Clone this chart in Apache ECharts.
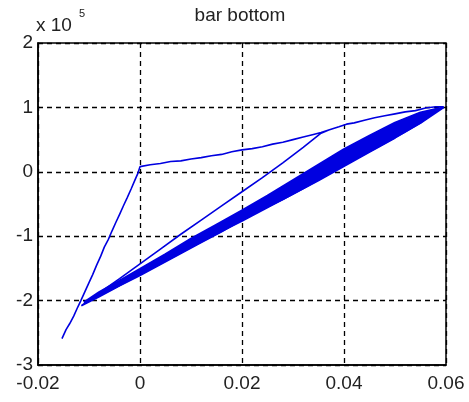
<!DOCTYPE html>
<html>
<head>
<meta charset="utf-8">
<script src="https://cdn.jsdelivr.net/npm/echarts@6/dist/echarts.min.js"></script>
<style>
html,body{margin:0;padding:0;background:#fff;}
#chart{width:469px;height:402px;}
</style>
</head>
<body>
<div id="chart"></div>
<script>
// Chart text
const titleText = 'bar bottom';
const yScaleBase = 'x 10';
const yScaleExp = '5';

// Axis ticks
const xTicks = [-0.02, 0, 0.02, 0.04, 0.06];
const yTicks = [-3, -2, -1, 0, 1, 2];

// Path pieces (x, y in units of 1e5)
const steepRise = [[-0.0153,-2.59],[-0.0145,-2.45],[-0.0138,-2.36],[-0.0130,-2.24],[-0.0122,-2.10],[-0.0116,-2.00],[-0.0108,-1.86],[-0.0100,-1.72],[-0.0093,-1.60],[-0.0085,-1.45],[-0.0077,-1.31],[-0.0070,-1.17],[-0.0062,-1.05],[-0.0055,-0.92],[-0.0047,-0.78],[-0.0040,-0.66],[-0.0032,-0.52],[-0.0025,-0.40],[-0.0017,-0.26],[-0.0010,-0.13],[-0.0004,-0.02],[0.0000,0.08]];
const upperBranch = [[0.002,0.11],[0.004,0.13],[0.006,0.16],[0.008,0.17],[0.010,0.20],[0.012,0.22],[0.014,0.25],[0.016,0.27],[0.018,0.31],[0.020,0.34],[0.022,0.36],[0.024,0.39],[0.026,0.43],[0.028,0.46],[0.030,0.50],[0.032,0.54],[0.034,0.58],[0.0355,0.61]];
const upperTail = [[0.037,0.65],[0.039,0.70],[0.0405,0.74],[0.042,0.76],[0.044,0.80],[0.046,0.84],[0.048,0.87],[0.050,0.90],[0.052,0.93],[0.054,0.95],[0.056,0.99],[0.058,1.01],[0.0595,1.01]];
const firstDescent = [[0.057,0.88],[0.055,0.76],[0.052,0.62],[0.050,0.53],[0.047,0.40],[0.044,0.27],[0.040,0.10],[0.036,-0.08],[0.032,-0.26],[0.028,-0.43],[0.024,-0.58],[0.020,-0.75],[0.016,-0.93],[0.012,-1.10],[0.008,-1.27],[0.004,-1.44],[0.000,-1.61],[-0.004,-1.77],[-0.008,-1.94],[-0.0115,-2.08]];
const middleRise = [[-0.008,-1.88],[-0.004,-1.66],[0.000,-1.43],[0.004,-1.20],[0.008,-0.97],[0.012,-0.75],[0.016,-0.53],[0.020,-0.31],[0.024,-0.09],[0.028,0.14],[0.032,0.38],[0.0355,0.60]];
const loop2Down = [[0.0595,1.0],[0.055,0.77],[0.050,0.55],[0.045,0.33],[0.040,0.11],[0.035,-0.11],[0.030,-0.33],[0.025,-0.54],[0.020,-0.75],[0.015,-0.95],[0.010,-1.16],[0.005,-1.37],[0.000,-1.58],[-0.004,-1.75],[-0.008,-1.91],[-0.0110,-2.03]];
const loop2Up = [[-0.008,-1.87],[-0.004,-1.69],[0.000,-1.51],[0.005,-1.28],[0.010,-1.04],[0.015,-0.82],[0.020,-0.60],[0.025,-0.37],[0.030,-0.13],[0.035,0.11],[0.040,0.35],[0.045,0.56],[0.050,0.76],[0.055,0.92],[0.0595,1.0]];
const loop3Down = [[0.055,0.80],[0.050,0.59],[0.045,0.38],[0.040,0.16],[0.035,-0.06],[0.030,-0.28],[0.025,-0.50],[0.020,-0.72],[0.015,-0.92],[0.010,-1.13],[0.005,-1.35],[0.000,-1.57],[-0.004,-1.74],[-0.007,-1.86]];
const loop3Up = [[-0.004,-1.71],[0.000,-1.53],[0.005,-1.30],[0.010,-1.06],[0.015,-0.84],[0.020,-0.63],[0.025,-0.40],[0.030,-0.17],[0.035,0.07],[0.040,0.31],[0.045,0.52],[0.050,0.73],[0.055,0.90],[0.0595,1.0]];
const loop4Down = [[0.055,0.79],[0.050,0.57],[0.045,0.35],[0.040,0.13],[0.035,-0.09],[0.030,-0.31],[0.025,-0.52],[0.020,-0.74],[0.015,-0.94],[0.010,-1.15],[0.005,-1.36],[0.000,-1.58],[-0.003,-1.71]];
const loop4Up = [[0.000,-1.54],[0.005,-1.32],[0.010,-1.09],[0.015,-0.87],[0.020,-0.66],[0.025,-0.43],[0.030,-0.20],[0.035,0.03],[0.040,0.27],[0.045,0.48],[0.050,0.69],[0.055,0.87],[0.0595,1.0]];
const loop5Down = [[0.055,0.82],[0.050,0.62],[0.045,0.41],[0.040,0.19],[0.035,-0.03],[0.030,-0.25],[0.025,-0.48],[0.020,-0.70],[0.015,-0.91],[0.010,-1.12],[0.005,-1.34],[0.001,-1.52]];
const loop5Up = [[0.005,-1.29],[0.010,-1.05],[0.015,-0.83],[0.020,-0.61],[0.025,-0.38],[0.030,-0.15],[0.035,0.09],[0.040,0.33],[0.045,0.54],[0.050,0.75],[0.055,0.92],[0.0595,1.0]];
const loop6Down = [[0.055,0.76],[0.050,0.53],[0.045,0.31],[0.040,0.09],[0.035,-0.13],[0.030,-0.34],[0.025,-0.55],[0.020,-0.76],[0.015,-0.96],[0.010,-1.17],[0.005,-1.38],[0.000,-1.59],[-0.005,-1.80],[-0.010,-2.00]];
const loop6Up = [[-0.006,-1.80],[-0.002,-1.64],[0.002,-1.46],[0.006,-1.28],[0.010,-1.10],[0.015,-0.89],[0.020,-0.68],[0.025,-0.46],[0.030,-0.23],[0.035,-0.01],[0.040,0.22],[0.045,0.44],[0.050,0.65],[0.055,0.84],[0.0595,1.0]];
const loop7Down = [[0.055,0.78],[0.050,0.56],[0.045,0.34],[0.040,0.12],[0.035,-0.10],[0.030,-0.32],[0.025,-0.53],[0.020,-0.74],[0.015,-0.95],[0.010,-1.16],[0.005,-1.37],[0.000,-1.59],[-0.004,-1.76],[-0.006,-1.83]];
const loop7Up = [[-0.004,-1.71],[0.000,-1.53],[0.005,-1.31],[0.010,-1.08],[0.015,-0.86],[0.020,-0.64],[0.025,-0.42],[0.030,-0.19],[0.035,0.04],[0.040,0.28],[0.045,0.49],[0.050,0.70],[0.055,0.88],[0.0595,1.0]];
const loop8Down = [[0.055,0.81],[0.050,0.61],[0.045,0.39],[0.040,0.18],[0.035,-0.05],[0.030,-0.27],[0.025,-0.49],[0.020,-0.71],[0.015,-0.91],[0.010,-1.13],[0.005,-1.35],[0.002,-1.48]];
const loop8Up = [[0.005,-1.29],[0.010,-1.05],[0.015,-0.83],[0.020,-0.62],[0.025,-0.39],[0.030,-0.15],[0.035,0.08],[0.040,0.32],[0.045,0.53],[0.050,0.74],[0.055,0.91],[0.0595,1.0]];
const loop9Down = [[0.055,0.80],[0.050,0.58],[0.045,0.37],[0.040,0.15],[0.035,-0.07],[0.030,-0.29],[0.025,-0.51],[0.020,-0.72],[0.015,-0.93],[0.010,-1.14],[0.005,-1.36],[0.000,-1.57],[-0.005,-1.79],[-0.009,-1.95]];
const loop9Up = [[-0.006,-1.79],[-0.002,-1.62],[0.002,-1.45],[0.006,-1.27],[0.010,-1.09],[0.015,-0.88],[0.020,-0.67],[0.025,-0.45],[0.030,-0.22],[0.035,0.00],[0.040,0.24],[0.045,0.45],[0.050,0.66],[0.055,0.85],[0.0595,1.0]];

const thinPath = [].concat(steepRise, upperBranch, upperTail, firstDescent, middleRise, upperTail);
const bandPath = [].concat(
  loop2Down, loop2Up, loop3Down, loop3Up, loop4Down, loop4Up,
  loop5Down, loop5Up, loop6Down, loop6Up, loop7Down, loop7Up,
  loop8Down, loop8Up, loop9Down, loop9Up
);

const chart = echarts.init(document.getElementById('chart'), null, {renderer: 'canvas'});
const FONT = '"Liberation Sans", Arial, sans-serif';
const gridLine = {show: true, lineStyle: {color: '#000', width: 1.3, type: [5, 4]}};
const BLUE = '#0000e0';

chart.setOption({
  backgroundColor: '#fff',
  animation: false,
  grid: {left: 38, right: 23, top: 43, bottom: 37, show: true, borderColor: '#000', borderWidth: 1.5, backgroundColor: '#fff'},
  xAxis: {
    type: 'value', min: xTicks[0], max: xTicks[xTicks.length - 1], interval: 0.02,
    axisLine: {show: true, onZero: false, lineStyle: {color: '#000', width: 1.5}},
    axisTick: {show: false},
    splitLine: gridLine,
    axisLabel: {color: '#222', fontSize: 19, fontFamily: FONT, margin: 9,
      formatter: v => (Math.abs(v) < 1e-9 ? '0' : String(+v.toFixed(2)))}
  },
  yAxis: {
    type: 'value', min: yTicks[0], max: yTicks[yTicks.length - 1], interval: 1,
    axisLine: {show: true, onZero: false, lineStyle: {color: '#000', width: 1.5}},
    axisTick: {show: false},
    splitLine: gridLine,
    axisLabel: {color: '#222', fontSize: 19, fontFamily: FONT, margin: 5}
  },
  graphic: [
    {type: 'text', x: 240, y: 16, style: {text: titleText, fill: '#222', font: '19px ' + FONT, textAlign: 'center', textVerticalAlign: 'middle'}},
    {type: 'text', x: 36, y: 26, style: {text: yScaleBase, fill: '#222', font: '19px ' + FONT, textVerticalAlign: 'middle'}},
    {type: 'text', x: 79, y: 14, style: {text: yScaleExp, fill: '#222', font: '11px ' + FONT, textVerticalAlign: 'middle'}}
  ],
  series: [{
    type: 'line',
    data: thinPath,
    showSymbol: false,
    lineStyle: {color: BLUE, width: 1.6},
    clip: true
  }, {
    type: 'line',
    data: bandPath,
    showSymbol: false,
    lineStyle: {color: BLUE, width: 2.2},
    clip: true
  }]
});
</script>
</body>
</html>
